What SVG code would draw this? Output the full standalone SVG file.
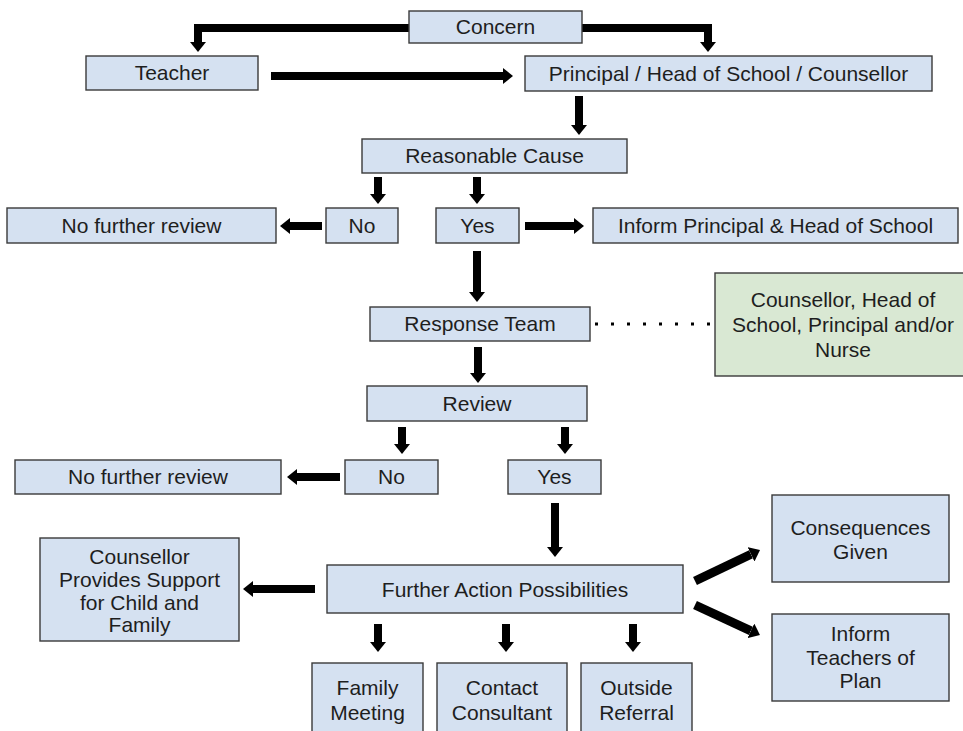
<svg xmlns="http://www.w3.org/2000/svg" width="963" height="731" viewBox="0 0 963 731">
  <style>
    .box { fill: #d5e1f1; stroke: #3a3a3a; stroke-width: 1.4; }
    .green { fill: #d9e8d3; stroke: #3a3a3a; stroke-width: 1.4; }
    text { font-family: "Liberation Sans", Arial, sans-serif; font-size: 21px; fill: #1e1e1e; text-anchor: middle; }
    .arrow { fill: none; stroke: #000; stroke-width: 8; stroke-linejoin: miter; marker-end: url(#head); }
    .dots { fill: none; stroke: #000; stroke-width: 3; stroke-dasharray: 3 13; }
  </style>
  <defs>
    <marker id="head" viewBox="0 -8 10 16" markerWidth="10" markerHeight="16" refX="0" refY="0" orient="auto" markerUnits="userSpaceOnUse">
      <path d="M0,-8 L10,0 L0,8 z" fill="#000"/>
    </marker>
  </defs>
  <rect width="963" height="731" fill="#ffffff"/>

  <g id="connectors">
    <path class="arrow" d="M409,28 H198 V42"/>
    <path class="arrow" d="M582,28 H708 V42"/>
    <path class="arrow" d="M271,76 H503"/>
    <path class="arrow" d="M579,96 V125"/>
    <path class="arrow" d="M378,177 V194"/>
    <path class="arrow" d="M477,177 V194"/>
    <path class="arrow" d="M322,226 H290"/>
    <path class="arrow" d="M525,226 H574"/>
    <path class="arrow" d="M477,251 V292"/>
    <path class="dots" d="M595,324 H712"/>
    <path class="arrow" d="M478,347 V373"/>
    <path class="arrow" d="M402,427 V444"/>
    <path class="arrow" d="M565,427 V444"/>
    <path class="arrow" d="M340,477 H297"/>
    <path class="arrow" d="M555,503 V547"/>
    <path class="arrow" d="M315,589 H253"/>
    <path class="arrow" style="stroke-width:9" d="M695,581 L751,554.3"/>
    <path class="arrow" style="stroke-width:9" d="M695,605 L750.9,630.8"/>
    <path class="arrow" d="M378,624 V642"/>
    <path class="arrow" d="M506,624 V642"/>
    <path class="arrow" d="M633,624 V642"/>
  </g>

  <g id="concern"><rect class="box" x="409" y="11" width="173" height="32"/><text x="495.5" y="34">Concern</text></g>
  <g id="teacher"><rect class="box" x="86" y="56" width="172" height="34"/><text x="172" y="80">Teacher</text></g>
  <g id="principal"><rect class="box" x="525" y="56" width="407" height="35"/><text x="728.5" y="81">Principal / Head of School / Counsellor</text></g>
  <g id="reasonable-cause"><rect class="box" x="362" y="139" width="265" height="34"/><text x="494.5" y="163">Reasonable Cause</text></g>
  <g id="no-further-review-1"><rect class="box" x="7" y="208" width="269" height="35"/><text x="141.5" y="233">No further review</text></g>
  <g id="no-1"><rect class="box" x="326" y="208" width="72" height="35"/><text x="362" y="233">No</text></g>
  <g id="yes-1"><rect class="box" x="436" y="208" width="83" height="35"/><text x="477.5" y="233">Yes</text></g>
  <g id="inform-principal"><rect class="box" x="593" y="208" width="365" height="35"/><text x="775.5" y="233">Inform Principal &amp; Head of School</text></g>
  <g id="response-team"><rect class="box" x="370" y="307" width="220" height="34"/><text x="480" y="331">Response Team</text></g>
  <g id="team-members"><rect class="green" x="715" y="273" width="260" height="103"/>
    <text x="843" y="307">Counsellor, Head of</text>
    <text x="843" y="332">School, Principal and/or</text>
    <text x="843" y="357">Nurse</text></g>
  <g id="review"><rect class="box" x="367" y="386" width="220" height="35"/><text x="477" y="411">Review</text></g>
  <g id="no-further-review-2"><rect class="box" x="15" y="460" width="266" height="34"/><text x="148" y="484">No further review</text></g>
  <g id="no-2"><rect class="box" x="345" y="460" width="93" height="34"/><text x="391.5" y="484">No</text></g>
  <g id="yes-2"><rect class="box" x="508" y="460" width="93" height="34"/><text x="554.5" y="484">Yes</text></g>
  <g id="counsellor-support"><rect class="box" x="40" y="538" width="199" height="103"/>
    <text x="139.5" y="564">Counsellor</text>
    <text x="139.5" y="587">Provides Support</text>
    <text x="139.5" y="610">for Child and</text>
    <text x="139.5" y="632">Family</text></g>
  <g id="further-action"><rect class="box" x="327" y="565" width="356" height="48"/><text x="505" y="597">Further Action Possibilities</text></g>
  <g id="consequences"><rect class="box" x="772" y="495" width="177" height="87"/>
    <text x="860.5" y="535">Consequences</text>
    <text x="860.5" y="559">Given</text></g>
  <g id="inform-teachers"><rect class="box" x="772" y="614" width="177" height="87"/>
    <text x="860.5" y="641">Inform</text>
    <text x="860.5" y="665">Teachers of</text>
    <text x="860.5" y="688">Plan</text></g>
  <g id="family-meeting"><rect class="box" x="312" y="663" width="111" height="80"/>
    <text x="367.5" y="695">Family</text>
    <text x="367.5" y="720">Meeting</text></g>
  <g id="contact-consultant"><rect class="box" x="437" y="663" width="130" height="80"/>
    <text x="502" y="695">Contact</text>
    <text x="502" y="720">Consultant</text></g>
  <g id="outside-referral"><rect class="box" x="581" y="663" width="111" height="80"/>
    <text x="636.5" y="695">Outside</text>
    <text x="636.5" y="720">Referral</text></g>
</svg>
